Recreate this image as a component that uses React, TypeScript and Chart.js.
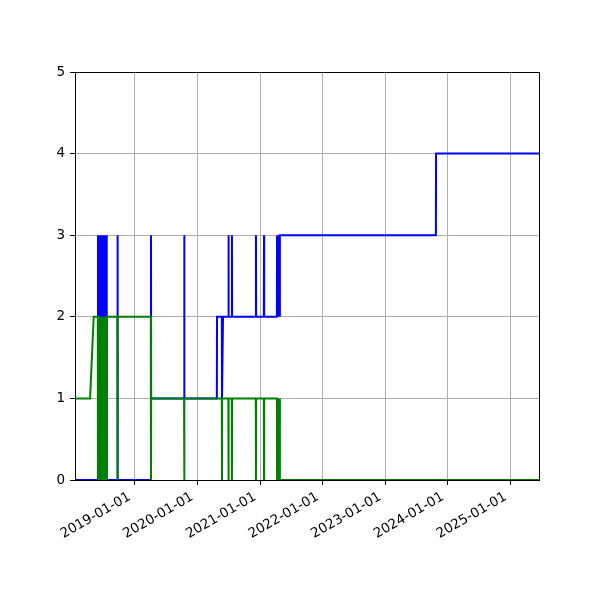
import React, { useEffect, useRef } from 'react';
import { Chart, registerables } from 'chart.js';

Chart.register(...registerables);

// step-like series, one point per change (dates)
const blueDates = [
  '2018-01-18', '2018-05-31', '2018-06-01', '2018-06-04', '2018-06-08', '2018-06-12',
  '2018-06-16', '2018-06-20', '2018-06-24', '2018-06-28', '2018-07-02', '2018-07-06',
  '2018-07-10', '2018-07-14', '2018-07-18', '2018-07-22', '2018-09-22', '2018-09-23',
  '2018-09-24', '2019-04-05', '2019-04-06', '2019-04-07', '2019-10-16', '2019-10-17',
  '2019-10-18', '2020-04-24', '2020-04-25', '2020-05-23', '2020-05-24', '2020-05-30',
  '2020-06-30', '2020-07-01', '2020-07-02', '2020-07-20', '2020-07-21', '2020-07-22',
  '2020-12-07', '2020-12-08', '2020-12-09', '2021-01-23', '2021-01-24', '2021-01-25',
  '2021-04-09', '2021-04-10', '2021-04-15', '2021-04-22', '2021-04-26', '2021-04-27',
  '2023-10-23', '2023-10-24', '2025-06-21',
];
const blueValues = [
  0, 0, 3, 0, 3, 0,
  3, 0, 3, 0, 3, 0,
  3, 0, 3, 0, 0, 3,
  0, 0, 3, 1, 1, 3,
  1, 1, 2, 2, 1, 2,
  2, 3, 2, 2, 3, 2,
  2, 3, 2, 2, 3, 2,
  2, 3, 2, 3, 2, 3,
  3, 4, 4,
];

const greenDates = [
  '2018-01-18', '2018-04-16', '2018-05-07', '2018-05-31', '2018-06-01', '2018-06-04',
  '2018-06-08', '2018-06-12', '2018-06-16', '2018-06-20', '2018-06-24', '2018-06-28',
  '2018-07-02', '2018-07-06', '2018-07-10', '2018-07-14', '2018-07-18', '2018-07-22',
  '2018-09-22', '2018-09-23', '2018-09-24', '2019-04-05', '2019-04-06', '2019-04-07',
  '2019-10-16', '2019-10-17', '2019-10-18', '2020-05-23', '2020-05-24', '2020-05-25',
  '2020-06-30', '2020-07-01', '2020-07-02', '2020-07-20', '2020-07-21', '2020-07-22',
  '2020-12-07', '2020-12-08', '2020-12-09', '2021-01-23', '2021-01-24', '2021-01-25',
  '2021-04-09', '2021-04-10', '2021-04-15', '2021-04-22', '2021-04-26', '2021-04-27',
  '2025-06-21',
];
const greenValues = [
  1, 1, 2, 2, 0, 2,
  0, 2, 0, 2, 0, 2,
  0, 2, 0, 2, 0, 2,
  2, 0, 2, 2, 0, 1,
  1, 0, 1, 1, 0, 1,
  1, 0, 1, 1, 0, 1,
  1, 0, 1, 1, 0, 1,
  1, 0, 1, 0, 1, 0,
  0,
];

const xStart = '2018-01-18';
const xEnd = '2025-06-21';
const yearTicks = ['2019-01-01', '2020-01-01', '2021-01-01', '2022-01-01', '2023-01-01', '2024-01-01', '2025-01-01'];

const toPoints = (dates: string[], values: number[]) =>
  dates.map((d, i) => ({ x: Date.parse(d), y: values[i] }));

const fmtDate = (ms: number) => new Date(ms).toISOString().slice(0, 10);

// matplotlib draws all four spines
const frame = {
  id: 'frame',
  afterDatasetsDraw(chart: any) {
    const { ctx, chartArea } = chart;
    ctx.save();
    ctx.strokeStyle = '#000000';
    ctx.lineWidth = 1;
    ctx.strokeRect(chartArea.left + 0.5, chartArea.top + 0.5, chartArea.width - 1, chartArea.height);
    ctx.restore();
  },
};

const App: React.FC = () => {
  const canvasRef = useRef<HTMLCanvasElement>(null);

  useEffect(() => {
    if (!canvasRef.current) return;
    const font = { family: '"DejaVu Sans", sans-serif', size: 13.5 };

    const chart = new Chart(canvasRef.current, {
      type: 'line',
      data: {
        datasets: [
          {
            data: toPoints(blueDates, blueValues),
            borderColor: '#0000ff',
            borderWidth: 2,
            pointRadius: 0,
            tension: 0,
            order: 2,
          },
          {
            data: toPoints(greenDates, greenValues),
            borderColor: '#008000',
            borderWidth: 2,
            pointRadius: 0,
            tension: 0,
            order: 1,
          },
        ],
      },
      options: {
        animation: false,
        responsive: true,
        maintainAspectRatio: false,
        layout: { padding: { top: 72, right: 60, left: 0, bottom: 0 } },
        plugins: {
          legend: { display: false },
          tooltip: { enabled: false },
        },
        scales: {
          x: {
            type: 'linear',
            min: Date.parse(xStart),
            max: Date.parse(xEnd),
            afterBuildTicks: (scale: any) => {
              scale.ticks = yearTicks.map((d) => ({ value: Date.parse(d) }));
            },
            afterFit: (scale: any) => {
              scale.height = 120;
            },
            border: { display: false },
            grid: {
              color: '#b0b0b0',
              lineWidth: 1,
              tickColor: '#000000',
              tickLength: 5,
            },
            ticks: {
              autoSkip: false,
              minRotation: 30,
              maxRotation: 30,
              padding: 4,
              labelOffset: -5,
              color: '#000000',
              font,
              callback: (value: any) => fmtDate(Number(value)),
            },
          },
          y: {
            min: 0,
            max: 5,
            afterFit: (scale: any) => {
              scale.width = 75;
            },
            border: { display: false },
            grid: {
              color: '#b0b0b0',
              lineWidth: 1,
              tickColor: '#000000',
              tickLength: 5,
            },
            ticks: {
              stepSize: 1,
              padding: 5,
              color: '#000000',
              font,
            },
          },
        },
      },
      plugins: [frame],
    });

    return () => {
      chart.destroy();
    };
  }, []);

  return (
    <div style={{ position: 'absolute', left: 0, top: 0, width: 600, height: 600, background: '#ffffff' }}>
      <canvas ref={canvasRef} />
    </div>
  );
};

export default App;
